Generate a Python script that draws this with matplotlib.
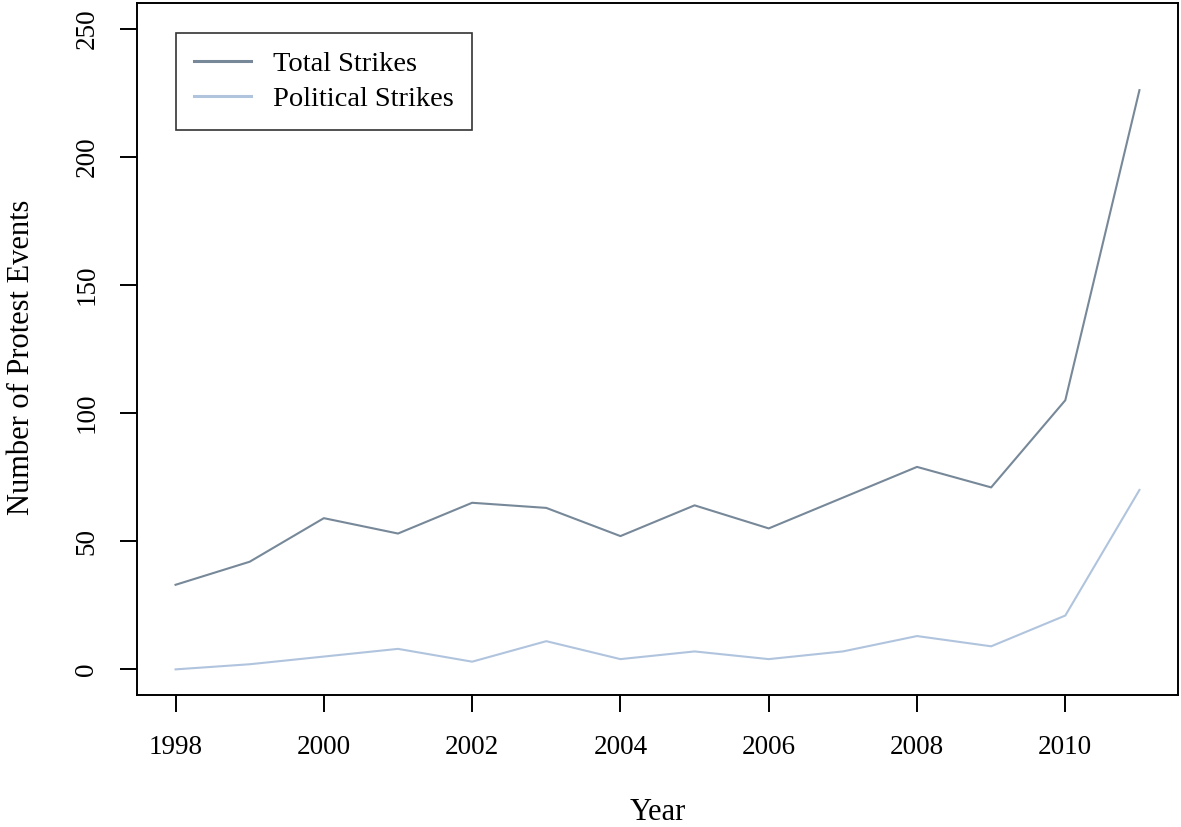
import matplotlib
matplotlib.use("Agg")
import matplotlib.pyplot as plt

years = list(range(1998, 2012))
total_strikes = [33, 42, 59, 53, 65, 63, 52, 64, 55, 67, 79, 71, 105, 226]
political_strikes = [0, 2, 5, 8, 3, 11, 4, 7, 4, 7, 13, 9, 21, 70]
x_ticks = [1998, 2000, 2002, 2004, 2006, 2008, 2010]
y_ticks = [0, 50, 100, 150, 200, 250]

plt.rcParams['font.family'] = ['Liberation Serif', 'DejaVu Serif']

fig = plt.figure(figsize=(11.81, 8.27), dpi=100)
L, R, B, T = 137 / 1181, 1178 / 1181, 1 - 695 / 827, 1 - 3 / 827
ax = fig.add_axes([L, B, R - L, T - B])

ax.plot(years, total_strikes, color='#778899', lw=1.5, label='Total Strikes')
ax.plot(years, political_strikes, color='#B0C4DE', lw=1.5, label='Political Strikes')

ax.set_xlim(1997.48, 2011.52)
ax.set_ylim(-10, 260)
ax.set_xticks(x_ticks)
ax.set_yticks(y_ticks)
ax.set_xticklabels([str(v) for v in x_ticks])
ax.set_yticklabels([str(v) for v in y_ticks], rotation=90, va='center')

for s in ax.spines.values():
    s.set_linewidth(1.4)
    s.set_color('black')

ax.tick_params(axis='both', length=12, width=1.4, labelsize=19.5, colors='black')
ax.tick_params(axis='x', pad=17)
ax.tick_params(axis='y', pad=15)

ax.set_xlabel('Year', fontsize=22)
ax.xaxis.set_label_coords(0.5, (695 - 812) / 692)
ax.xaxis.label.set_va('center')
ax.set_ylabel('Number of Protest Events', fontsize=22)
ax.yaxis.set_label_coords((22 - 137) / 1041, (695 - 357) / 692)
ax.yaxis.label.set_va('center')

leg = ax.legend(loc='upper left', bbox_to_anchor=((176 - 137) / 1041, (695 - 33) / 692),
                borderaxespad=0, fancybox=False, frameon=True, fontsize=20.5,
                handlelength=2.0, handletextpad=0.8, borderpad=0.62,
                labelspacing=0.33)
leg.get_frame().set_edgecolor('black')
leg.get_frame().set_linewidth(1.2)
for ln in leg.get_lines():
    ln.set_linewidth(2.2)

fig.savefig('out.png', dpi=100)
